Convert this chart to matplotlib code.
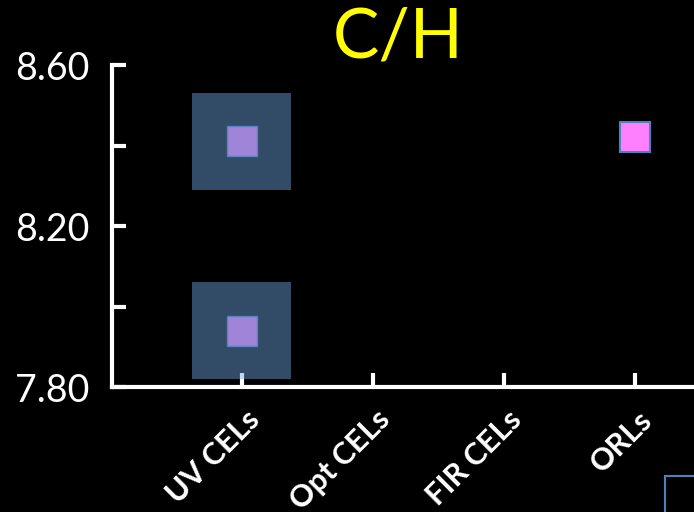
import matplotlib
matplotlib.use("Agg")
import matplotlib.pyplot as plt
import matplotlib.transforms as mtransforms
from matplotlib.patches import Rectangle

categories = ["UV CELs", "Opt CELs", "FIR CELs", "ORLs"]
uv_values = [8.41, 7.94]
uv_errors = [0.12, 0.12]
orl_values = [8.42]
y_ticks = [7.80, 8.20, 8.60]
y_minor = [8.00, 8.40]

fig = plt.figure(figsize=(6.94, 5.12), dpi=100, facecolor="black")
ax = fig.add_axes([112 / 694, 125 / 512, 655 / 694, 322 / 512])
ax.set_facecolor("black")

x_pos = list(range(1, len(categories) + 1))

# uncertainty boxes behind the UV points
ax.bar([x_pos[0]] * len(uv_values), [2 * e for e in uv_errors],
       bottom=[v - e for v, e in zip(uv_values, uv_errors)],
       width=0.76, color="#70A8E6", alpha=0.45, zorder=3, linewidth=0)
ax.plot([x_pos[0]] * len(uv_values), uv_values, "s", ms=21.5,
        mfc="#A084D8", mec="#5A82C0", mew=1.0, zorder=4, clip_on=False)
ax.plot([x_pos[3]] * len(orl_values), orl_values, "s", ms=21.5,
        mfc="#FF80FF", mec="#4F81BD", mew=1.5, zorder=4, clip_on=False)

ax.set_xlim(0.01, 5.01)
ax.set_ylim(7.80, 8.60)
ax.set_xticks(x_pos)
ax.set_xticklabels([])

# rotated category names, ending just right of each tick
label_tr = ax.get_xaxis_transform() + mtransforms.ScaledTranslation(
    13 / 100, -28 / 100, fig.dpi_scale_trans)
for x, name in zip(x_pos, categories):
    ax.text(x, 0, name, transform=label_tr, rotation=45, ha="right",
            va="center", rotation_mode="anchor", fontsize=22,
            fontweight="bold", family="Lato", color="white")

ax.set_yticks(y_ticks)
ax.set_yticks(y_minor, minor=True)
ax.set_yticklabels([f"{t:.2f}" for t in y_ticks], fontsize=27,
                   family="Lato", color="white")

for side in ["top", "right"]:
    ax.spines[side].set_visible(False)
for side in ["left", "bottom"]:
    ax.spines[side].set_color("white")
    ax.spines[side].set_linewidth(3)
    ax.spines[side].set_capstyle("projecting")

ax.tick_params(axis="both", which="both", direction="in", color="white",
               width=3)
ax.tick_params(axis="y", which="both", length=10, pad=16)
ax.tick_params(axis="x", length=10)

fig.text(0.574, 0.926, "C/H", color="#FFFF00", fontsize=50,
         family="Lato", ha="center", va="center")

# part of a legend frame in the lower right corner
fig.patches.append(Rectangle((665 / 694, -0.1), 0.2, 0.1 + 36 / 512,
                             transform=fig.transFigure, fill=False,
                             edgecolor="#4F81BD", linewidth=1.5))

fig.savefig("out.png", dpi=100, facecolor="black")
